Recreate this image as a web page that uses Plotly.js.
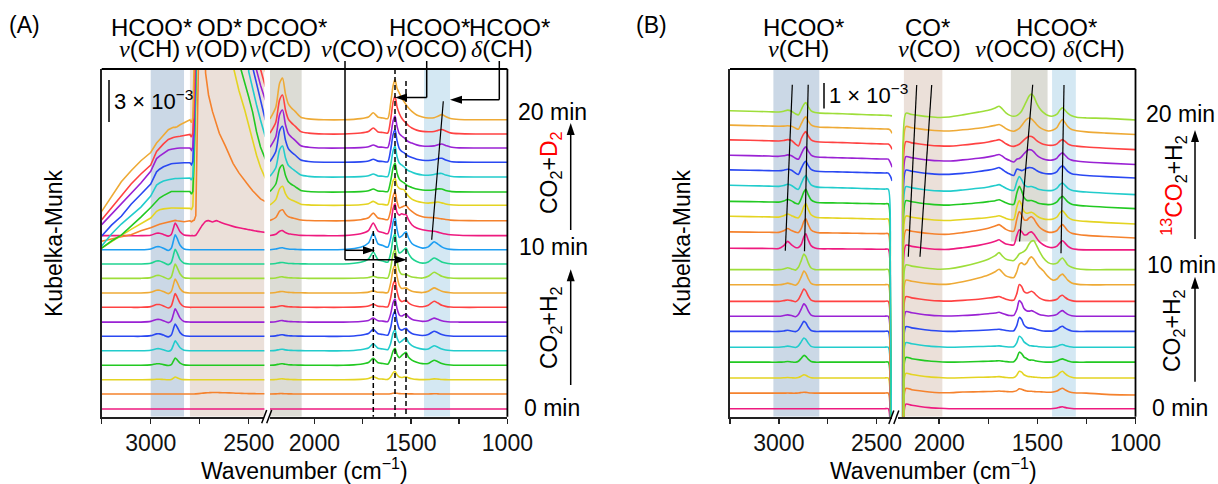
<!DOCTYPE html>
<html><head><meta charset="utf-8">
<script src="https://cdn.plot.ly/plotly-3.0.1.min.js"></script>
<style>html,body{margin:0;padding:0;background:#fff;}#chart{width:1218px;height:484px;}</style>
</head><body><div id="chart"></div>
<script>
// ---------- DATA (Kubelka-Munk, units of 1e-4, relative to each spectrum's baseline) ----------
// Panel A: CO2+H2 (0-10 min) then CO2+D2 (10-20 min)
const aOffset = [0,11,21.4,32,42.6,53.2,63.6,74.4,84.9,95.6,106.1,116.5,126.8,137.7,149,158.7,169.7,180.5,190.9,201.2,211.6];
const aLeftWn = [3250,3200,3150,3100,3050,3000,2970,2955,2935,2910,2895,2885,2875,2865,2850,2830,2800,2792,2785,2778,2770,2740,2720,2705,2685,2665,2650,2620,2580,2550,2520,2500,2480,2460,2440,2415];
const aLeft = [
[0,0,0,0,0,0,0,0,0,0,0,0,0,0,0,0,0,0,0,0,0,0,0,0,0,0,0,0,0,0,0,0,0,0,0,0],
[0,0,0,0,0,0,0,0,0,0,0,0,0,0,0,0,0,0,0,0,0.1,0.5,0.8,0.9,1.1,1.1,1,0.9,0.7,0.5,0.4,0.3,0.3,0.2,0.2,0.2],
[0,0,0,0,0,0.1,0.4,0.4,0.2,0,0.2,1.1,2,1.5,0.6,0.1,0,0,0,0,0,0,0,0,0,0,0,0,0,0,0,0,0,0,0,0],
[0,0,0,0,0,0.3,1.1,1.1,0.5,-0.2,0.5,2.9,5.3,4,1.6,0.3,0,0,0,0,0,0,0,0,0,0,0,0,0,0,0,0,0,0,0,0],
[0,0,0,0,0,0.4,1.5,1.5,0.7,-0.3,0.7,4,7.3,5.5,2.2,0.4,0,0,0,0,0,0,0,0,0,0,0,0,0,0,0,0,0,0,0,0],
[0,0,0,0,0,0.5,1.8,1.8,0.9,-0.4,0.9,5,9,6.8,2.7,0.5,0,0,0,0,0,0,0,0,0,0,0,0,0,0,0,0,0,0,0,0],
[0,0,0,0,0,0.5,1.9,1.9,1,-0.4,1,5.3,9.7,7.3,2.9,0.5,0,0,0,0,0,0,0,0,0,0,0,0,0,0,0,0,0,0,0,0],
[0,0,0,0,0,0.5,2,2,1,-0.5,1,5.5,10,7.5,3,0.5,0,0,0,0,0,0,0,0,0,0,0,0,0,0,0,0,0,0,0,0],
[0,0,0,0,0,0.5,2,2,1,-0.5,1,5.6,10.2,7.7,3.1,0.5,0,0,0,0,0,0,0,0,0,0,0,0,0,0,0,0,0,0,0,0],
[0,0,0,0,0,0.5,2.1,2.1,1,-0.5,1,5.8,10.5,7.9,3.2,0.5,0,0,0,0,0,0,0,0,0,0,0,0,0,0,0,0,0,0,0,0],
[0,0,0,0,0,0.5,2.2,2.2,1.1,-0.5,1.1,5.9,10.8,8.1,3.2,0.5,0,0,0,0,0,0,0,0,0,0,0,0,0,0,0,0,0,0,0,0],
[0,0,0,0,0,0.6,2.2,2.2,1.1,-0.5,1.1,6,11,8.3,3.3,0.6,0,0,0,0,0,0,0,0,0,0,0,0,0,0,0,0,0,0,0,0],
[0,0,0,0,0,0.3,1.8,1.8,0.9,-0.3,0.9,5,9.3,7,2.8,0.5,0,0,0,0,0.3,7,10.5,11,10,11,10.2,8.5,6.8,5.8,5,4.4,3.9,3.3,2.9,2.4],
[-15,-13.2,-11.7,-10.2,-7.3,-5.1,-3.3,-2.6,-1.8,-1.1,-0.6,0,0.3,0,-0.5,-0.7,0,-0.7,0,0.5,3.7,250,108,92,80,70,64,55,42,35,29,25.6,22,19,16,14],
[-31.2,-26.3,-22,-17.6,-13.2,-9.3,-4.4,-3.3,-2.6,-2,-2,-2,-2,-2,-2,-2,-2.2,-2.9,-0.7,29,102,250,250,250,250,250,250,250,102,84,69.5,58.5,47.5,36.6,27.8,19.7],
[-41,-35.8,-31.5,-25.2,-18.3,-11.3,-7,-4.4,-2.6,-0.7,0.4,0.4,0.4,0.4,0.4,0.4,0.4,-1.5,0.5,29,110,250,250,250,250,250,250,250,250,95,80.5,69.5,58.5,44,33,24],
[-50.5,-41.7,-34.4,-28.5,-22,-13.9,-5.9,-4.4,-2.9,-2,-1.5,-1.1,-1.1,-1.1,-1.1,-1.1,-0.7,-2.2,0.4,29,110,250,250,250,250,250,250,250,250,250,250,77,64,52.7,41.7,29.3],
[-54,-46,-39.5,-30.7,-23.4,-16,-7,-5.1,-3.3,-1.6,-1.1,-0.9,-0.7,-0.6,-0.5,-0.4,-0.4,-1.8,0.7,29,110,250,250,250,250,250,250,250,250,250,250,250,69.5,57,44,30.7],
[-56,-48.3,-41,-33.3,-25.6,-17,-7.7,-5.9,-3.7,-1.5,-0.9,-0.5,-0.3,-0.2,0,0,0,-1.5,0.7,29,110,250,250,250,250,250,250,250,250,250,250,250,250,57,46,35],
[-62.7,-54,-46,-36.6,-29.3,-22.7,-12.8,-10.2,-7.3,-4,-2.9,-2.6,-2.2,-1.8,-1.7,-1.1,-0.4,-2.2,0.7,29,110,250,250,250,250,250,250,250,250,250,250,250,250,62,47.5,34.4],
[-67,-56,-45.4,-37.3,-30,-24,-17,-14.6,-11,-7.3,-6.2,-5.6,-5.6,-5.1,-3.7,-2.2,0,-2.2,1.5,44,146,250,250,250,250,250,250,250,250,250,250,250,250,66,45,35]
];
const aRightWn = [2230,2200,2180,2165,2150,2135,2120,2100,2070,2030,1950,1850,1760,1720,1695,1670,1645,1620,1605,1592,1582,1572,1560,1548,1536,1525,1512,1495,1470,1440,1410,1380,1360,1340,1320,1295,1250,1150,1000];
const aRight = [
[0,0,0,0,0,0,0,0,0,0, 0,0,0,0,0,0,0,0,0,0,0,0,0,0,0,0,0,0,0,0,0,0,0,0,0,0,0,0,0],
[0,0.1,0.3,0.3,0.2,0.1,0.1,0,0,0, 0,0,0,0,0,0,0,0,0.2,0.6,0.7,0.5,0.3,0.2,0.2,0.2,0.1,0.1,0,0,0,0.2,0.1,0,0,0,0,0,0],
[0,0.2,0.6,0.7,0.4,0.3,0.2,0.1,0,0, 0,0,0.3,0.9,2.2,0.8,0.5,0.3,2.1,5.1,6,3.6,2,1.7,2,2.2,1.4,0.8,0.3,0.1,0.2,0.7,0.5,0.2,0.1,0,0,0,0],
[0,0.3,1,1.1,0.7,0.4,0.3,0.2,0.1,0, 0,0,0.8,2,5.1,1.8,1.3,0.8,4.5,10.6,12.4,8,5.5,7.1,8.6,9.5,5.8,3.8,2.2,1.2,1.3,3.7,2.6,1.3,0.6,0.2,0,0,0],
[0,0.3,1,1.1,0.7,0.4,0.3,0.2,0.1,0, 0,0,0.8,2,5.1,1.8,1.3,0.8,5.4,13.1,15.4,9.5,6,7.1,8.6,9.5,6,3.8,2.2,1.2,1.3,3.7,2.6,1.3,0.6,0.2,0,0,0],
[0,0.3,1,1.1,0.7,0.4,0.3,0.2,0.1,0, 0,0,0.8,2,5.1,1.8,1.3,0.8,6.4,15.6,18.3,11,5.5,4.5,5.3,5.9,3.8,2.1,1.1,0.6,1.3,3.7,2.6,1.3,0.6,0.2,0,0,0],
[0,0.3,1,1.1,0.7,0.4,0.3,0.2,0.1,0, 0,0,0.4,1.2,2.9,1,0.7,0.4,5.9,14.3,16.8,10,5.2,4.4,5.3,5.9,3.8,2.1,1.1,0.5,1,2.9,2,1,0.4,0.1,0,0,0],
[0,0.3,1,1.1,0.7,0.4,0.3,0.2,0.1,0, 0,0,0.3,0.9,2.2,0.8,0.6,0.3,6.9,16.8,19.8,11.9,5.9,4.2,4.7,5.1,3.3,1.8,0.8,0.4,1.5,4.4,3.1,1.5,0.7,0.2,0,0,0],
[0,0.3,1,1.1,0.7,0.4,0.3,0.2,0.1,0, 0,0,0.2,0.6,1.5,0.5,0.4,0.2,7.2,17.4,20.5,12.3,5.6,3.3,3.4,3.7,2.4,1.3,0.6,0.3,1.3,3.7,2.6,1.3,0.6,0.2,0,0,0],
[0,0.3,1,1.1,0.7,0.4,0.3,0.2,0.1,0, 0,0,0.2,0.6,1.5,0.5,0.4,0.2,7.4,18,21.2,12.7,5.5,3,2.8,2.9,1.9,1,0.5,0.2,1.5,4.4,3.1,1.5,0.7,0.2,0,0,0],
[0,0.3,1,1.1,0.7,0.4,0.3,0.2,0.1,0, 0,0,1.3,3.5,8.8,3.1,2.2,1.3,7.7,18.7,22,13.5,8,8.8,10.5,11.7,7.6,4.1,1.8,0.6,1.5,4.4,3.1,1.5,0.7,0.2,0,0,0],
[0,0.5,1.3,1.5,0.9,0.6,0.4,0.3,0.1,0, 0,0.2,1.8,4.9,12.2,4.3,3.1,1.8,8.4,20.4,24,15,9,9.9,11.9,13.2,8.6,4.6,2.5,1.2,2.1,5.9,4.1,2.1,0.9,0.3,0,0,0],
[0.1,1.1,3.3,3.7,2.3,1.4,1.1,0.7,0.2,0.1, 0,0,1.4,3.7,9.3,3.3,2.3,1.4,8.2,19.9,23.4,17,15,16,15.5,15.4,11.5,8,5.6,4.4,3.6,3.2,2.6,1.8,1.2,0.7,0.3,0,0],
[0.2,2.4,7,8,5,3,2.3,1.6,0.5,0.2, 0,0,0.8,2.2,5.6,2,1.4,0.8,7.4,18,21.2,14,9.3,10,10.8,11.2,9,6.8,4.4,3,2.4,2.2,1.9,1.4,0.9,0.5,0.2,0,0],
[0.3,4.2,12.2,13.9,8.6,5.3,4,2.8,0.8,0.3, 0,0,0.4,1.2,2.9,1,0.7,0.4,9,18,19.8,14.5,12.4,11.8,11.5,9,6.6,4.5,2.9,2,1.6,2,2.4,1.8,1,0.4,0.1,0,0],
[0.4,5.9,17.4,19.8,12.3,7.5,5.7,4,1.2,0.4, 0,0,0.3,0.9,2.2,0.8,0.6,0.3,8,18,21.2,14,9.5,7.8,6.8,5.4,4.2,3.4,2.2,1.5,1.3,1.7,2.3,2.2,1.2,0.5,0.1,0,0],
[0.5,6.8,20,22.7,14.1,8.6,6.6,4.5,1.4,0.5, 0,0,0.3,0.9,2.2,0.8,0.6,0.3,8.5,19.3,22.7,15,10.2,8.8,7.5,6,4.6,3.6,2.3,1.5,1.3,1.8,2.5,2.6,1.4,0.6,0.1,0,0],
[0.5,7.9,23.1,26.3,16.3,10,7.6,5.3,1.6,0.5, 0,0,0.3,0.9,2.2,0.8,0.6,0.3,9,20.4,24,16,10,8,7,5.6,4.4,3.4,2.2,1.5,1.3,1.8,2.7,2.9,1.6,0.6,0.1,0,0],
[0.6,8.3,24.5,27.8,17.2,10.6,8.1,5.6,1.7,0.6, 0,0,0.3,0.9,2.2,0.8,0.6,0.3,8.8,19.9,23.4,16,10.5,8.8,7.6,6,4.6,3.6,2.3,1.5,1.3,1.6,2.4,2.9,1.9,0.7,0.1,0,0],
[0.6,8.6,25.1,28.5,17.7,10.8,8.3,5.7,1.7,0.6, 0,0,0.7,1.8,4.4,1.5,1.1,0.7,10.5,23.6,27.8,20,15,11.7,9.5,8,6,4.4,2.8,1.9,1.6,1.8,2.6,3.3,2.2,0.8,0.2,0,0],
[0.6,9.2,26.8,30.5,18.9,11.6,8.8,6.1,1.8,0.6, 0,0,0.8,2,5.1,1.8,1.3,0.8,12,25,29.3,23,19.5,16,13.4,11,8.5,6.1,3.5,2,1.3,1.5,2.6,3.7,2.4,0.9,0.2,0,0]
];
// Panel B: CO2+H2 (0-10 min) then 13CO2+H2 (10-20 min)
const bOffset = [0,6.7,13.2,20,26.4,33.2,39.7,46.1,53.2,59.7,68.2,74.7,80.7,87.3,93.3,100.4,106.2,112.6,119.1,124.8];
const bLeftWn = [3250,3150,3050,3000,2975,2955,2935,2915,2900,2885,2872,2862,2850,2835,2815,2790,2750,2700,2650,2600,2550,2500,2460,2440,2430,2420];
const bLeft = [
[0,0,0,0,0,0,0,0,0,0,0,0,0,0,0,0,0,0,0,0,0,0,0,0,-30,-150],
[0,0,0,0,0,0.05,0,0,0.1,0.25,0.4,0.35,0.2,0.05,0,0,0,0,0,0,0,0,0,0,-30,-150],
[0,0,0,0,0.1,0.2,0.1,0,0.2,0.8,1.4,1.2,0.6,0.1,0,0,0,0,0,0,0,0,0,0,-30,-150],
[0,0,0,0,0.1,0.3,0.1,0,0.4,1.7,2.9,2.5,1.3,0.3,0,0,0,0,0,0,0,0,0,0,-30,-150],
[0,0,0,0,0.2,0.5,0.2,-0.1,0.6,2.4,4,3.4,1.8,0.4,0,0,0,0,0,0,0,0,0,0,-30,-150],
[0,0,0,0,0.2,0.5,0.2,-0.1,0.6,2.6,4.3,3.7,1.9,0.4,0,0,0,0,0,0,0,0,0,0,-30,-150],
[0,0,0,0,0.3,0.6,0.3,-0.2,0.8,3.2,5.3,4.5,2.4,0.5,0,0,0,0,0,0,0,0,0,0,-30,-150],
[0,0,0,0,0.3,0.6,0.3,-0.2,0.8,3.2,5.3,4.5,2.4,0.5,0,0,0,0,0,0,0,0,0,0,-30,-150],
[0,0,0,0,0.3,0.7,0.3,-0.2,0.9,3.5,5.9,5,2.7,0.6,0,0,0,0,0,0,0,0,0,0,-30,-150],
[0,0,0,0,0.3,0.8,0.3,-0.2,1,4,6.7,5.7,3,0.7,0,0,0,0,0,0,0,0,0,0,-30,-150],
[0.7,0.65,0.6,0.57,1.8,3.65,2.1,1,1,2.4,5.6,6.9,4.3,1.8,0.8,0.46,0.44,0.41,0.39,0.35,0.32,0.28,0.26,0.25,-30,-150],
[1.2,1.12,1.03,0.98,1.66,2.65,1.77,1.11,0.9,2.69,5.68,6.86,4.45,2.04,1.12,0.79,0.76,0.71,0.66,0.6,0.54,0.48,0.44,0.42,-30,-150],
[1.9,1.77,1.63,1.56,2.08,2.9,2.16,1.44,1.23,3.21,6.19,7.37,4.95,2.53,1.59,1.25,1.2,1.12,1.05,0.95,0.86,0.76,0.7,0.67,-30,-150],
[1.7,1.58,1.46,1.39,1.84,2.54,1.91,0.87,0.58,2.97,5.8,6.92,4.63,2.33,1.45,1.12,1.07,1,0.94,0.85,0.77,0.68,0.63,0.6,-30,-150],
[2.6,2.42,2.24,2.13,2.48,3.05,2.5,1.32,0.85,3.39,5.82,6.77,4.79,2.8,2.02,1.72,1.64,1.53,1.43,1.3,1.17,1.04,0.96,0.91,-30,-150],
[2.1,1.95,1.81,1.72,1.96,2.36,1.97,0.76,0.18,2.84,4.97,5.81,4.07,2.33,1.65,1.39,1.32,1.24,1.16,1.05,0.95,0.84,0.78,0.74,-0.5,-2.6],
[2.6,2.42,2.24,2.13,2.36,2.75,2.35,1.32,0.85,3.21,5.34,6.17,4.43,2.68,1.99,1.72,1.64,1.53,1.43,1.3,1.17,1.04,0.96,0.91,-0.5,-2.6],
[2.8,2.6,2.41,2.3,2.52,2.91,2.51,0.99,0.2,3.36,5.48,6.32,4.57,2.82,2.12,1.85,1.76,1.65,1.54,1.4,1.26,1.12,1.04,0.98,0.3,-1.3],
[2.6,2.42,2.24,2.13,2.2,2.35,2.15,1.32,0.85,3.21,5.34,6.17,4.43,2.68,1.99,1.72,1.64,1.53,1.43,1.3,1.17,1.04,0.96,0.91,0.5,-0.9],
[3.1,2.88,2.67,2.54,2.84,3.35,2.84,1.76,1.33,3.61,5.78,6.63,4.84,3.05,2.33,2.05,1.95,1.83,1.71,1.55,1.4,1.24,1.15,1.09,1,0.9]
];
const bRightWn = [2210,2195,2185,2170,2140,2100,2050,2000,1950,1880,1800,1750,1715,1695,1680,1660,1640,1620,1605,1592,1580,1568,1555,1542,1530,1518,1505,1490,1470,1445,1420,1400,1385,1372,1360,1345,1325,1300,1250,1150,1000];
const bRight = [
[-150,-150,-12,2,1.5,1,0.5,0.2, 0,0,0,0,0,0,0,0,0,0,0,0,0,0,0,0,0,0,0,0,0,0,0.1,0.3,0.7,0.9,0.6,0.3,0.1,0,0,0,0],
[-150,-150,-12,2,1.5,1,0.5,0.2, 0.2,0.5,0.6,0.7,0.8,0.9,0.8,0.7,0.6,0.7,1.1,1.9,1.7,1.2,0.9,0.8,0.8,0.7,0.6,0.6,0.5,0.4,0.5,0.9,1.7,2.1,1.5,0.8,0.3,0.1,0,-0.5,-0.8],
[-150,-150,-12,2,1.5,1,0.5,0.2, 0,0.1,0.3,0.4,0.5,0.6,0.45,0.25,0.1,0.2,1.2,2.9,2.5,1.4,0.9,0.6,0.5,0.4,0.3,0.2,0.1,0.1,0.3,1,2.3,2.9,2,1,0.3,0,0,0,0],
[-150,-150,-12,2,1.5,1,0.5,0.2, 0,0.1,0.3,0.4,0.5,0.6,0.45,0.25,0.1,0.2,1.7,4.3,3.7,2.2,1.6,0.9,0.9,0.8,0.5,0.3,0.1,0,0.1,0.5,1.1,1.4,1,0.5,0.1,0,0,0,0],
[-150,-150,-12,2,1.5,1,0.5,0.2, 0,0.1,0.3,0.4,0.5,0.6,0.45,0.25,0.1,0.2,1.9,4.7,4,2.3,1.5,0.8,0.6,0.5,0.4,0.2,0.1,0,0.1,0.4,1,1.2,0.8,0.4,0.1,0,0,0,0],
[-150,-150,-12,2,1.5,1,0.5,0.2, 0,0.2,0.4,0.6,0.8,0.9,0.7,0.4,0.2,0.3,2.5,6,5.1,2.8,1.8,1.4,1.4,1.2,0.8,0.5,0.2,0.1,0.2,0.8,1.8,2.2,1.5,0.8,0.2,0,0,0,0],
[-150,-150,-12,2,1.5,1,0.5,0.2, 0.1,0.3,0.7,1.1,1.4,1.7,1.3,0.7,0.3,0.4,2.8,6.7,5.7,3.3,2.4,2.2,2.4,2,1.4,0.8,0.4,0.1,0.3,0.8,1.9,2.4,1.7,0.8,0.2,0,0,0,0],
[-150,-150,-12,2,1.5,1,0.5,0.2, 0.1,0.4,0.9,1.4,1.8,2.1,1.6,0.9,0.5,0.5,3.2,7.2,6.4,4.2,3.6,3.9,4.3,3.7,2.6,1.5,0.7,0.3,0.4,0.9,2.1,2.6,1.8,0.9,0.3,0,0,0,0],
[-150,-150,-12,2,1.5,1,0.5,0.2, 0.3,1.3,2.9,4.2,5.6,6.7,5.5,3.8,3.2,3.1,5.5,8.8,9.4,8.6,9.3,11.2,12,11,9.2,7.6,6,3.5,2,2.5,3.9,4.6,3.6,2,0.8,0.3,0,0,0],
[-150,-150,-12,2,1.5,1,0.5,0.2, 0.4,1.4,3.1,4.5,6,7.3,6,4.5,4,3.9,5.2,6.8,7.3,7.8,9,11,12.2,12.4,10.5,8,5.1,3,2.4,2.8,4.2,5,3.8,2,1,0.4,0,0,0],
[-150,-150,-12,2,1.5,1,0.5,0.2, 0.2,0.9,1.9,2.8,3.7,4.3,3.5,2.5,2.2,2.1,6,8.6,7.8,6.5,6.5,7.4,7.7,6.8,5.2,3.5,2.2,1.2,1,1.6,3,3.9,3,1.6,0.6,0.2,0,0,0],
[-150,-150,-12,2,1.5,1,0.5,0.2, 0.2,0.9,1.9,2.8,3.7,4.3,3.5,2.3,1.6,1.5,6.5,9.9,8.5,6.5,6.2,7.2,7.7,6.8,5,3.3,2,1.1,1.1,1.8,3.4,4.3,3.3,1.7,0.6,0.2,-0.3,-0.8,-1.4],
[-150,-150,-12,2,1.5,1,0.5,0.2, 0.1,0.5,1,1.4,1.8,2.1,1.7,1,0.5,0.6,5.8,8.6,6.8,4,3.2,3.4,3.6,3.1,2.2,1.4,0.8,0.5,0.7,1.6,3.4,4.3,3.2,1.6,0.5,0.1,-0.3,-0.8,-1.4],
[-150,-150,-12,2,1.5,1,0.5,0.2, 0.1,0.5,1.1,1.6,2,2.4,1.9,1.1,0.5,0.4,5.2,8.2,6.2,3.4,2.2,2,2.1,1.8,1.3,0.8,0.5,0.3,0.6,1.5,3.1,3.9,2.9,1.5,0.5,0.1,-0.3,-0.8,-1.4],
[-150,-150,-12,2,1.5,1,0.5,0.2, 0.1,0.6,1.3,1.9,2.5,2.9,2.3,1.3,0.6,0.4,4,6.4,5,3,2.1,2,2.1,1.8,1.3,0.8,0.5,0.3,0.5,1.4,2.9,3.6,2.7,1.4,0.5,0.1,-0.3,-0.8,-1.4],
[-150,-150,-12,2,1.5,1,0.5,0.2, 0.2,0.6,1.4,2,2.6,3.1,2.4,1.2,0.3,-0.3,2.4,2.2,1.8,2.2,2.8,3.1,3,2.6,1.9,1.2,0.7,0.4,0.6,1.4,3.1,3.9,2.9,1.5,0.5,0.1,-0.3,-0.8,-1.4],
[-150,-150,-12,2,1.5,1,0.5,0.2, 0.1,0.6,1.3,1.9,2.5,2.9,2.3,1.1,0.3,-0.3,0.9,1.2,2,3.2,4.4,5,4.8,4,2.8,1.8,1,0.5,0.6,1.4,2.9,3.6,2.7,1.4,0.5,0.1,-0.3,-0.8,-1.4],
[-150,-150,-12,2,1.5,1,0.5,0.2, 0.1,0.6,1.3,1.9,2.5,2.9,2.3,1.1,0.3,0,0.4,0.9,1.8,2.8,3.7,4.3,4.2,3.6,2.6,1.7,0.9,0.5,0.5,1.1,2.3,2.9,2.2,1.1,0.4,0.1,-0.3,-0.8,-1.4],
[-150,-150,-12,2,1.5,1,0.5,0.2, 0.1,0.6,1.3,1.9,2.5,2.9,2.3,1.1,0.3,0,0.5,1.2,2.4,3.8,5.1,5.7,5.3,4.3,3,1.8,0.8,0.1,0.5,1.6,3.8,5,3.8,2,0.7,0.2,-0.3,-0.8,-1.4],
[-150,-150,-12,2,1.5,1,0.5,0.2, 0.4,1.3,2.5,3.3,4.3,5,4,2.2,1.1,0.7,1,1.8,3,5,7.2,9.4,10.3,9.2,6.6,4.3,2.4,1,0.8,1.6,3.4,4.3,3.4,2.1,0.9,0.3,0,-0.2,-0.9]
];
const aColors = ['#ee1a7f','#f5822d','#e4d422','#22c922','#22cccc','#2a48f2','#9a22d4','#ff4242','#eeaa36','#9ede3a','#20d491','#1d9ef2'];
const bColors = aColors.slice(0,10);

// ---------- BUILD ----------
const W = 1218, H = 484;
const F = 'Liberation Sans, Arial, sans-serif';
const X = p => p / W, Y = p => 1 - p / H;
const traces = [];
function addSpectra(wn, rows, offs, colors, xa, ya, smoothFrom) {
  rows.forEach((r, i) => {
    const smooth = i < smoothFrom;
    traces.push({type:'scatter', mode:'lines', x: wn, y: r.map(v => v + offs[i]),
      xaxis: xa, yaxis: ya,
      line: smooth ? {color: colors[i % colors.length], width:1.6, shape:'spline', smoothing:0.7}
                   : {color: colors[i % colors.length], width:1.6},
      hoverinfo:'skip', showlegend:false});
  });
}
addSpectra(aLeftWn, aLeft, aOffset, aColors, 'x', 'y', 13);
addSpectra(aRightWn, aRight, aOffset, aColors, 'x2', 'y', 99);
addSpectra(bLeftWn, bLeft, bOffset, bColors, 'x3', 'y2', 99);
addSpectra(bRightWn, bRight, bOffset, bColors, 'x4', 'y2', 99);

const yDom = [Y(416.7), Y(69)];
const axX = {showgrid:false, zeroline:false, showline:true, linecolor:'#222', linewidth:1.8,
  ticks:'outside', ticklen:5, tickwidth:1.5, tickcolor:'#222', tickmode:'linear', tick0:0, dtick:500,
  minor:{tickmode:'linear', tick0:0, dtick:250, ticks:'outside', ticklen:5, tickwidth:1.5, tickcolor:'#222', showgrid:false},
  tickfont:{size:23, family:F, color:'#111'}, ticklabelstandoff:0, fixedrange:true};
const axY = {showgrid:false, zeroline:false, showline:true, linecolor:'#222', linewidth:1.8,
  ticks:'', showticklabels:false, domain:yDom, fixedrange:true};
const aYr = [-5.6, 248.7], bYr = [-3.4, 145.8];

function seg(x0,y0,x1,y1,w,dash){ return {type:'line', xref:'paper', yref:'paper', x0:X(x0), y0:Y(y0), x1:X(x1), y1:Y(y1), line:{color:'#000', width:w||1.5, dash:dash||'solid'}}; }
function head(tx,ty,dir){
  const L=12, h=4; let p;
  if(dir==='r') p=[[tx,ty],[tx-L,ty-h],[tx-L,ty+h]];
  if(dir==='l') p=[[tx,ty],[tx+L,ty-h],[tx+L,ty+h]];
  if(dir==='u') p=[[tx,ty],[tx-h,ty+L],[tx+h,ty+L]];
  return {type:'path', xref:'paper', yref:'paper', path: p.map((q,i)=>(i?'L':'M')+X(q[0])+','+Y(q[1])).join(' ')+' Z', fillcolor:'#000', line:{width:0}};
}
function band(xr, yr, x0, x1, y0, y1, c){ return {type:'rect', layer:'below', xref:xr, yref:yr, x0, x1, y0, y1, fillcolor:c, line:{width:0}}; }
const cBG='#cbd8e6', cBE='#ebe0d9', cGR='#dcdcd5', cLB='#d4e8f3';
const shapes = [
  band('x','y',3000,2830,aYr[0],aYr[1],cBG), band('x','y',2800,2420,aYr[0],aYr[1],cBE),
  band('x2','y',2230,2066,aYr[0],aYr[1],cGR), band('x2','y',1432,1297,aYr[0],aYr[1],cLB),
  band('x3','y2',3028,2793,bYr[0],bYr[1],cBG), band('x4','y2',2180,1984,bYr[0],bYr[1],cBE),
  band('x4','y2',1635,1448,71.8,bYr[1],cGR), band('x4','y2',1425,1304,bYr[0],bYr[1],cLB),
  // frames
  seg(101.7,69,507.4,69,1.8), seg(507.4,69,507.4,416.7,1.8),
  seg(730,69,1135.5,69,1.8), seg(1135.5,69,1135.5,416.7,1.8),
  // axis breaks
  seg(261.7,423.3,266.7,410,1.5), seg(266.7,423.3,271.7,410,1.5),
  seg(888.8,424,893.8,410.5,1.5), seg(893.8,424,898.8,410.5,1.5),
  // scale bars
  seg(109,80,109,122,1.5), seg(824,83,824,108.5,1.5),
  // panel A guide lines
  seg(345,61,345,259.7), seg(345,250.3,370,250.3), head(375,250.3,'r'),
  seg(345,259.7,400,259.7), head(406.7,259.7,'r'),
  seg(426.7,61,426.7,97.5), seg(426.7,97.5,400,97.5), head(395,97.5,'l'),
  seg(499.3,61,499.3,99.7), seg(499.3,99.7,455,99.7), head(450,99.7,'l'),
  seg(443.3,101.3,431.7,239.7,1.2),
  seg(373.3,231,373.3,416.7,1.5,'5px,3px'), seg(395,69,395,416.7,1.5,'5px,3px'), seg(406,81,406,416.7,1.5,'5px,3px'),
  // time arrows
  seg(570.7,230,570.7,130), head(570.7,123,'u'), seg(570.7,385,570.7,276), head(570.7,269.3,'u'),
  seg(1195,239,1195,136), head(1195,130,'u'), seg(1195,381.7,1195,283), head(1195,276.7,'u'),
  // panel B guide lines
  seg(792.3,84.7,785.3,250.7,1.2), seg(808.2,84.7,804.5,251.3,1.2),
  seg(916.7,85,908.3,256.7,1.2), seg(931.7,85,920,256.7,1.2),
  seg(1032.7,84.7,1019.6,241.5,1.2), seg(1064,85,1061,253.3,1.2)
];

const NU = '<span style="font-family:Liberation Serif,serif"><i>ν</i></span>';
const DE = '<span style="font-family:Liberation Serif,serif"><i>δ</i></span>';
function txt(x, y, text, o){ return Object.assign({xref:'paper', yref:'paper', x:X(x), y:Y(y), text, showarrow:false,
  xanchor:'center', yanchor:'middle', font:{size:23, family:F, color:'#000'}}, o||{}); }
const big = {font:{size:24, family:F, color:'#000'}};
const annotations = [
  txt(24.5,25,'(A)'), txt(651,25,'(B)'),
  txt(151,27.5,'HCOO*',big), txt(219,27.5,'OD*',big), txt(286.7,27.5,'DCOO*',big), txt(429,27.5,'HCOO*',big), txt(509,27.5,'HCOO*',big),
  txt(149,48.5,NU+'(CH)',big), txt(216,48.5,NU+'(OD)',big), txt(280,48.5,NU+'(CD)',big), txt(352,48.5,NU+'(CO)',big), txt(426,48.5,NU+'(OCO)',big), txt(501.5,48.5,DE+'(CH)',big),
  txt(803.7,27.5,'HCOO*',big), txt(927.5,27.5,'CO*',big), txt(1056,27.5,'HCOO*',big),
  txt(798,48.5,NU+'(CH)',big), txt(929,48.5,NU+'(CO)',big), txt(1015,48.5,NU+'(OCO)',big), txt(1094,48.5,DE+'(CH)',big),
  txt(112,100,'3 × 10<sup>−3</sup>',{xanchor:'left', font:{size:22,family:F,color:'#000'}}),
  txt(827,94,'1 × 10<sup>−3</sup>',{xanchor:'left', font:{size:22,family:F,color:'#000'}}),
  txt(552,111.5,'20 min'), txt(553,246.5,'10 min'), txt(552,408,'0 min'),
  txt(1180,113.5,'20 min'), txt(1181,264.5,'10 min'), txt(1180,408,'0 min'),
  txt(550.5,172.5,'CO<sub>2</sub>+<span style="color:#ff0000">D<sub>2</sub></span>',{textangle:-90}),
  txt(550.5,327.5,'CO<sub>2</sub>+H<sub>2</sub>',{textangle:-90}),
  txt(1173,185.7,'<span style="color:#ff0000"><sup>13</sup>CO</span><sub>2</sub>+H<sub>2</sub>',{textangle:-90}),
  txt(1173,331,'CO<sub>2</sub>+H<sub>2</sub>',{textangle:-90}),
  txt(54,243,'Kubelka-Munk',{textangle:-90}), txt(682,243,'Kubelka-Munk',{textangle:-90}),
  txt(304.5,469,'Wavenumber (cm<sup>−1</sup>)'), txt(933,469,'Wavenumber (cm<sup>−1</sup>)')
];

const layout = {
  width:W, height:H, margin:{l:0,r:0,t:0,b:0}, paper_bgcolor:'#fff', plot_bgcolor:'rgba(0,0,0,0)',
  showlegend:false, hovermode:false, font:{family:F, size:23, color:'#000'},
  xaxis: Object.assign({}, axX, {domain:[X(101.7), X(264.4)], range:[3250,2420], anchor:'y'}),
  xaxis2: Object.assign({}, axX, {domain:[X(270), X(507.4)], range:[2230,1000], anchor:'y'}),
  xaxis3: Object.assign({}, axX, {domain:[X(730), X(892.2)], range:[3250,2420], anchor:'y2'}),
  xaxis4: Object.assign({}, axX, {domain:[X(898), X(1135.5)], range:[2210,1000], anchor:'y2'}),
  yaxis: Object.assign({}, axY, {range:aYr, anchor:'x'}),
  yaxis2: Object.assign({}, axY, {range:bYr, anchor:'x3'}),
  shapes, annotations
};
Plotly.newPlot('chart', traces, layout, {staticPlot:true, displayModeBar:false});
</script></body></html>
